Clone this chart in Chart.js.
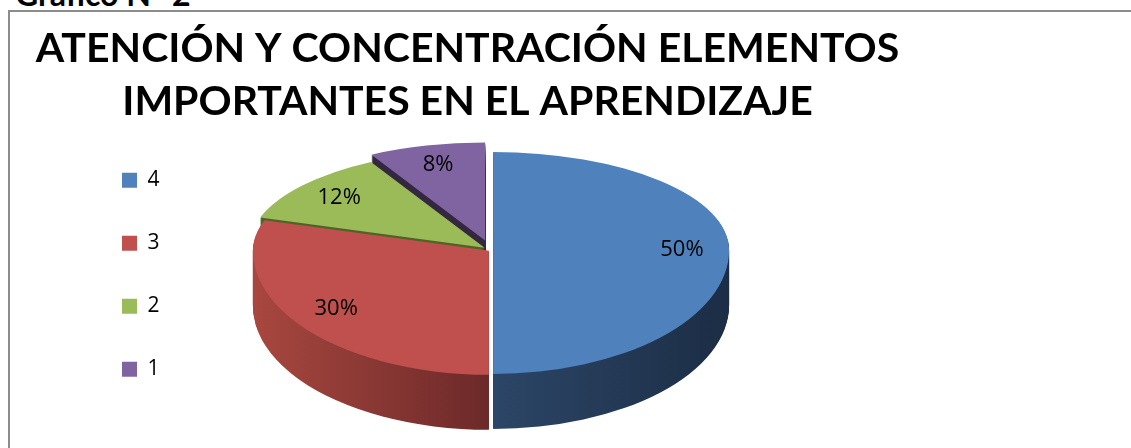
<!DOCTYPE html>
<html><head><meta charset="utf-8">
<script src="https://cdn.jsdelivr.net/npm/chart.js@4.4.1/dist/chart.umd.min.js"></script>
<style>
html,body{margin:0;padding:0;background:#fff;overflow:hidden;width:1131px;height:448px;position:relative}
#frame{position:absolute;left:8px;top:10px;width:1200px;height:520px;border:2px solid #8c8c8c;box-sizing:border-box}
#cap{position:absolute;left:15px;top:-22px;font:bold 32px Lato,sans-serif;line-height:32px;color:#000;white-space:nowrap}
#wrap{position:absolute;left:0;top:0;width:935px;height:448px}
</style></head><body>
<div id="frame"></div>
<div id="cap">Gráfico N° 2</div>
<div id="wrap"><canvas id="c"></canvas></div>
<script>
// ---- data ----
const categories = ['4', '3', '2', '1'];
const values = [50, 30, 12, 8];
const titleLines = ['ATENCIÓN Y CONCENTRACIÓN ELEMENTOS', 'IMPORTANTES EN EL APRENDIZAJE'];

// ---- style ----
const topColors = ['#4f81bd', '#c0504d', '#9bbb59', '#8064a2'];
const sideStops = [
  ['#2c4667', '#2c4667', '#1c2d45'],
  ['#a8473f', '#6c2929', '#6c2929'],
  ['#4f6228', '#4f6228', '#4f6228'],
  ['#33283f', '#33283f', '#33283f']
];
const explode = [0.009, 0.011, 0.035, 0.10];
const GEO = {cx: 491, cy: 250, rx: 236, ryBack: 98, ryFront: 124, depth: 55, labelR: 0.8, legendShift: 80};

function drawArcWith(ctx, arc, fill) {
  const o = arc.options;
  const n = Object.create(o);
  n.backgroundColor = fill;
  n.borderWidth = 0;
  n.offset = 0;
  arc.options = n;
  arc.draw(ctx);
  arc.options = o;
}

const pie3d = {
  id: 'pie3d',
  afterLayout(chart) {
    const lg = chart.legend;
    if (lg) { lg.left += GEO.legendShift; lg.right += GEO.legendShift; }
  },
  beforeDatasetsDraw(chart) {
    const ctx = chart.ctx;
    const arcs = chart.getDatasetMeta(0).data;
    if (!arcs.length) return false;
    const {x, y, outerRadius: R} = arcs[0];

    const layer = (dy, fills) => {
      for (let half = 0; half < 2; half++) {
        ctx.save();
        ctx.beginPath();
        if (half === 0) ctx.rect(0, 0, chart.width, GEO.cy + dy);
        else ctx.rect(0, GEO.cy + dy, chart.width, chart.height);
        ctx.clip();
        ctx.translate(GEO.cx, GEO.cy + dy);
        ctx.scale(GEO.rx / R, (half === 0 ? GEO.ryBack : GEO.ryFront) / R);
        ctx.translate(-x, -y);
        arcs.forEach((arc, i) => {
          const mid = (arc.startAngle + arc.endAngle) / 2;
          ctx.save();
          ctx.translate(Math.cos(mid) * explode[i] * R, Math.sin(mid) * explode[i] * R);
          drawArcWith(ctx, arc, fills[i]);
          ctx.restore();
        });
        ctx.restore();
      }
    };

    const sideFills = arcs.map((arc, i) => {
      const g = ctx.createLinearGradient(x - R, 0, x + R, 0);
      g.addColorStop(0, sideStops[i][0]);
      g.addColorStop(0.5, sideStops[i][1]);
      g.addColorStop(1, sideStops[i][2]);
      return g;
    });
    for (let d = GEO.depth; d >= 1; d--) layer(d, sideFills);
    layer(0, arcs.map(a => a.options.backgroundColor));

    const total = values.reduce((s, v) => s + v, 0);
    ctx.save();
    ctx.font = '22px "Open Sans", sans-serif';
    ctx.fillStyle = '#000';
    ctx.textAlign = 'center';
    ctx.textBaseline = 'middle';
    arcs.forEach((arc, i) => {
      const mid = (arc.startAngle + arc.endAngle) / 2;
      const r = (GEO.labelR + explode[i]) * R;
      const px = Math.cos(mid) * r, py = Math.sin(mid) * r;
      const sx = GEO.cx + px * GEO.rx / R;
      const sy = GEO.cy + py * (py < 0 ? GEO.ryBack : GEO.ryFront) / R;
      ctx.fillText(Math.round(values[i] / total * 100) + '%', sx, sy);
    });
    ctx.restore();
    return false;
  }
};

new Chart(document.getElementById('c'), {
  type: 'pie',
  data: {
    labels: categories,
    datasets: [{data: values, backgroundColor: topColors, borderWidth: 0}]
  },
  options: {
    responsive: true,
    maintainAspectRatio: false,
    animation: false,
    events: [],
    layout: {padding: 0},
    plugins: {
      tooltip: {enabled: false},
      title: {
        display: true,
        text: titleLines,
        color: '#000',
        font: {family: 'Lato', weight: 'bold', size: 41, lineHeight: 1.29},
        padding: {top: 22, bottom: 0}
      },
      legend: {
        position: 'left',
        align: 'start',
        fullSize: false,
        labels: {
          color: '#000',
          font: {family: '"Open Sans"', size: 21},
          boxWidth: 15,
          boxHeight: 15,
          padding: 42
        }
      }
    }
  },
  plugins: [pie3d]
});
</script>
</body></html>
